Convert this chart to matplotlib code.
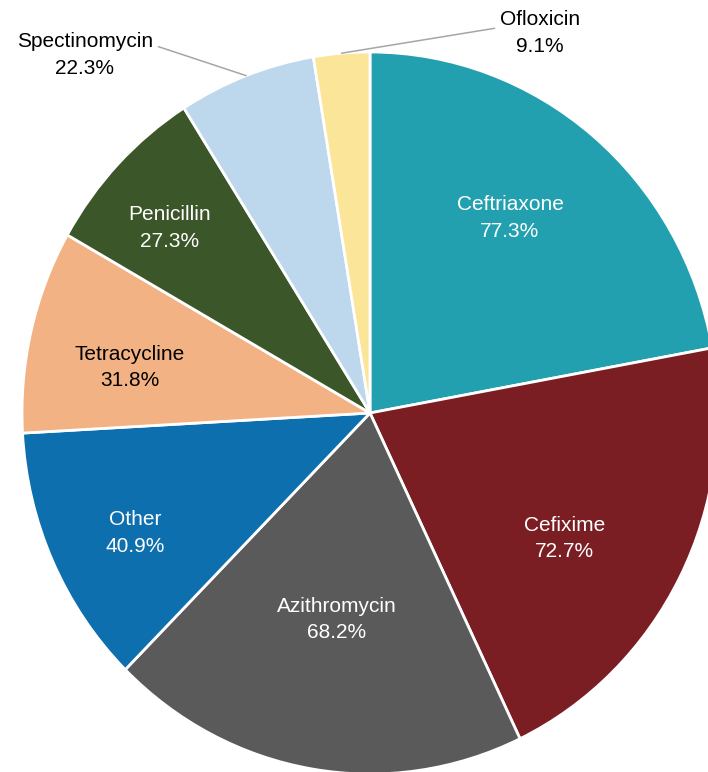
import numpy as np
import matplotlib
matplotlib.use('Agg')
from matplotlib import pyplot as plt

drugs = ['Ceftriaxone', 'Cefixime', 'Azithromycin', 'Other',
         'Tetracycline', 'Penicillin', 'Spectinomycin', 'Ofloxicin']
pct = [77.3, 72.7, 68.2, 40.9, 31.8, 27.3, 22.3, 9.1]

colors = ['#23a0b0', '#7b1e23', '#5a5a5a', '#0d6fae',
          '#f3b283', '#3b5628', '#bdd7ec', '#fbe599']
text_colors = ['white', 'white', 'white', 'white', 'black', 'white', None, None]
# label placement inside the slices: radius and angle nudge (deg) from the slice middle
label_r = [0.673, 0.658, 0.58, 0.752, 0.701, 0.770, None, None]
label_shift = [3.1, -4.9, 0.0, 2.0, 2.85, 1.9, 0, 0]

plt.rcParams['font.family'] = ['Liberation Sans', 'DejaVu Sans']
FS = 15
LS = 1.5

fig = plt.figure(figsize=(7.08, 7.72), dpi=100)
ax = fig.add_axes([22 / 708, -2 / 772, 696 / 708, 722 / 772])

wedges, _ = ax.pie(pct, colors=colors, startangle=90, counterclock=False,
                   wedgeprops=dict(edgecolor='white', linewidth=2))
ax.set_aspect('auto')
ax.set_xlim(-1, 1)
ax.set_ylim(-1, 1)
ax.axis('off')

for w, name, v, tc, r, sh in zip(wedges, drugs, pct, text_colors, label_r, label_shift):
    mid = np.deg2rad((w.theta1 + w.theta2) / 2 + sh)
    if r is not None:
        ax.text(r * np.cos(mid), r * np.sin(mid), f'{name}\n{v}%',
                ha='center', va='center', color=tc, fontsize=FS, linespacing=LS)

# small slices get their labels outside with a leader line
outside = {'Spectinomycin': ((-0.819, 0.992), (1.0, 0.72)),
           'Ofloxicin': ((0.489, 1.053), (0.0, 0.62))}
for w, name, v in zip(wedges, drugs, pct):
    if name in outside:
        mid = np.deg2rad((w.theta1 + w.theta2) / 2)
        pos, rel = outside[name]
        ax.annotate(f'{name}\n{v}%', xy=(np.cos(mid), np.sin(mid)), xytext=pos,
                    ha='center', va='center', fontsize=FS, linespacing=LS,
                    color='black', annotation_clip=False,
                    arrowprops=dict(arrowstyle='-', color='#a6a6a6', lw=1.1,
                                    relpos=rel, shrinkA=2, shrinkB=0))

plt.savefig('out.png', dpi=100)
